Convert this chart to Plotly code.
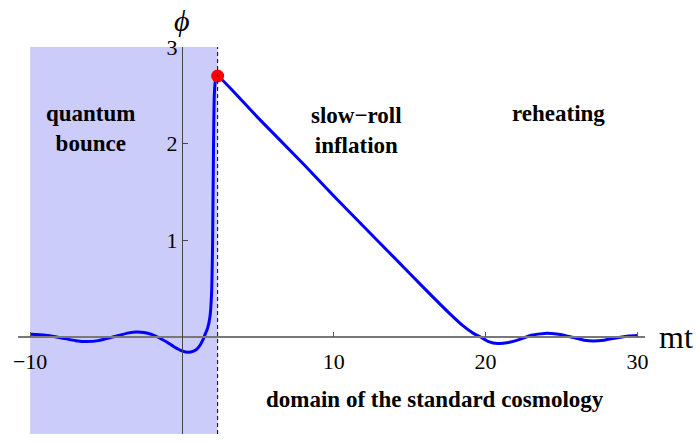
import plotly.graph_objects as go

# field phi(mt)
t_vals = [-10.0, -9.0, -8.0, -7.0, -6.3, -5.5, -4.5, -3.5, -3.0, -2.5, -2.0, -1.5,
          -1.0, -0.5, 0.0, 0.4, 0.8, 1.0, 1.2, 1.4, 1.5, 1.7, 1.85, 1.95, 2.02,
          2.08, 2.13, 2.2, 2.27, 2.35,
          5.0, 8.0, 10.0, 12.0, 14.0, 16.0, 17.5, 18.5, 19.2, 19.7, 20.2, 20.8,
          21.5, 22.3, 23.0, 23.9, 24.8, 25.7, 26.5, 27.1, 27.8, 28.7, 29.4, 30.0]
phi_vals = [0.030, 0.020, -0.005, -0.035, -0.045, -0.035, 0.005, 0.045, 0.055, 0.050, 0.030, -0.005,
            -0.050, -0.100, -0.140, -0.155, -0.140, -0.120, -0.080, -0.020, 0.020, 0.100, 0.220, 0.450, 1.000,
            2.000, 2.500, 2.650, 2.690, 2.700,
            2.270, 1.790, 1.460, 1.140, 0.820, 0.500, 0.265, 0.120, 0.040, 0.000, -0.045, -0.065,
            -0.055, -0.020, 0.020, 0.040, 0.030, 0.000, -0.030, -0.038, -0.030, -0.005, 0.012, 0.017]

bounce_end = 2.35          # end of the quantum bounce
dot_t, dot_phi = 2.35, 2.70

x_range = [-10.8, 30.5]
y_range = [-1, 3]
x_ticks = [-10, 10, 20, 30]
x_ticktext = ['\u221210', '10', '20', '30']
y_ticks = [-1, 1, 2, 3]
y_ticktext = ['\u22121', '1', '2', '3']

serif = 'Liberation Serif'

fig = go.Figure()

# shaded bounce region + dashed boundary
fig.add_shape(type='rect', x0=x_ticks[0], x1=bounce_end, y0=y_range[0], y1=y_range[1],
              fillcolor='rgb(204,204,250)', line_width=0, layer='below')
fig.add_shape(type='line', x0=bounce_end, x1=bounce_end, y0=y_range[0], y1=y_range[1],
              line=dict(color='black', width=1, dash='4px,3px'), layer='above')

fig.add_trace(go.Scatter(x=t_vals, y=phi_vals, mode='lines',
                         line=dict(color='rgb(0,0,255)', width=3, shape='spline', smoothing=0.6),
                         hoverinfo='skip'))
fig.add_trace(go.Scatter(x=[dot_t], y=[dot_phi], mode='markers',
                         marker=dict(color='rgb(255,0,0)', size=13)))

x_pos = (0 - y_range[0]) / (y_range[1] - y_range[0])
y_pos = (0 - x_range[0]) / (x_range[1] - x_range[0])

fig.update_xaxes(range=x_range, anchor='free', position=x_pos, showgrid=False, zeroline=False,
                 showline=True, linecolor='rgb(120,120,120)', linewidth=1.5,
                 ticks='inside', ticklen=5, tickcolor='rgb(90,90,90)',
                 tickvals=x_ticks, ticktext=x_ticktext, ticklabelstandoff=5,
                 tickfont=dict(family=serif, size=22, color='black'), automargin=False)
fig.update_yaxes(range=y_range, anchor='free', position=y_pos, showgrid=False, zeroline=False,
                 showline=True, linecolor='rgb(70,70,70)', linewidth=1,
                 ticks='inside', ticklen=5, tickcolor='rgb(70,70,70)',
                 tickvals=y_ticks, ticktext=y_ticktext,
                 tickfont=dict(family=serif, size=22, color='black'), automargin=False)

bold = dict(family=serif, size=23, color='black')
fig.add_annotation(x=-6.05, y=2.16, text='<b>quantum<br>bounce</b>', showarrow=False, font=bold)
fig.add_annotation(x=11.5, y=2.14, text='<b>slow\u2212roll<br>inflation</b>', showarrow=False, font=bold)
fig.add_annotation(x=24.8, y=2.31, text='<b>reheating</b>', showarrow=False, font=bold)
fig.add_annotation(x=16.7, y=-0.64, text='<b>domain of the standard cosmology</b>',
                   showarrow=False, font=bold)
fig.add_annotation(x=0, y=3, text='<i>\u03d5</i>', showarrow=False, yanchor='bottom', yshift=8,
                   font=dict(family=serif, size=30, color='black'))
fig.add_annotation(x=x_range[1], y=0, text='mt', showarrow=False, xanchor='left', xshift=12,
                   font=dict(family=serif, size=32, color='black'))

fig.update_layout(width=697, height=443, showlegend=False,
                  plot_bgcolor='white', paper_bgcolor='white',
                  margin=dict(l=18, r=52, t=47, b=9))

fig.write_html("out.html", config={'displayModeBar': False},
               post_script="document.body.style.margin='0';")
